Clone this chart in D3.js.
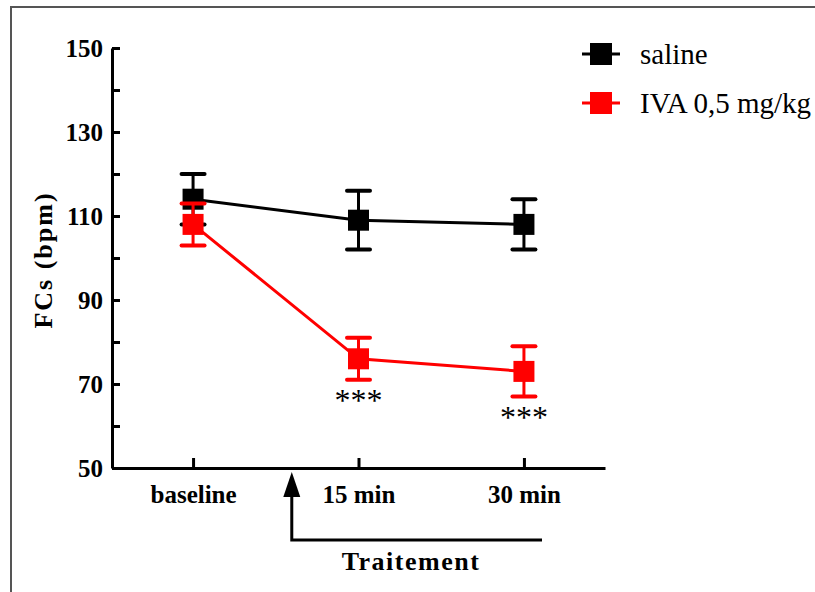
<!DOCTYPE html>
<html>
<head>
<meta charset="utf-8">
<script src="https://cdn.jsdelivr.net/npm/d3@7/dist/d3.min.js"></script>
<style>
  html, body { margin: 0; padding: 0; background: #fff; }
  svg { display: block; }
  svg text { font-family: "Liberation Serif", "Times New Roman", Times, "DejaVu Serif", serif !important; }
</style>
</head>
<body>
<script>
// ---- data ----
const categories = ["baseline", "15 min", "30 min"];
const salineMean = [114, 109, 108];
const salineErr  = [6, 7, 6];
const ivaMean    = [108, 76, 73];
const ivaErr     = [5, 5, 6];
const seriesNames = ["saline", "IVA 0,5 mg/kg"];
const seriesColors = ["#000000", "#ff0000"];
const yTicks = [50, 60, 70, 80, 90, 100, 110, 120, 130, 140, 150];
const yLabelTicks = [50, 70, 90, 110, 130, 150];
const signif = ["", "***", "***"];
const yTitle = "FCs (bpm)";
const xTitle = "Traitement";

const W = 815, H = 592;
const FONT = '"Liberation Serif", "Times New Roman", Times, "DejaVu Serif", serif';
const svg = d3.select("body").append("svg").attr("width", W).attr("height", H)
  .attr("font-family", FONT);

// frame (left and top edges)
svg.append("path").attr("d", `M11,${H} L11,7 L${W},7`).attr("fill", "none")
  .attr("stroke", "#555").attr("stroke-width", 2);

const x = d3.scalePoint().domain(categories).range([112, 605]).padding(0.49);
const y = d3.scaleLinear().domain([50, 150]).range([468, 48]);

// y axis
const yAxis = d3.axisLeft(y).tickValues(yTicks).tickSize(-8).tickSizeOuter(0).tickPadding(9)
  .tickFormat(d => yLabelTicks.includes(d) ? d : "");
const gy = svg.append("g").attr("transform", "translate(112,0)").call(yAxis).attr("font-family", FONT);
gy.selectAll("path,line").attr("stroke", "#000").attr("stroke-width", 3);
gy.selectAll("text").attr("font-size", 25).attr("font-weight", "bold").attr("fill", "#000");

// x axis
const xAxis = d3.axisBottom(x).tickSize(-10).tickSizeOuter(0).tickPadding(17);
const gx = svg.append("g").attr("transform", "translate(0,468)").call(xAxis).attr("font-family", FONT);
gx.selectAll("path,line").attr("stroke", "#000").attr("stroke-width", 3);
gx.selectAll("text").attr("font-size", 25).attr("font-weight", "bold").attr("fill", "#000");

// y title
svg.append("text").attr("transform", "translate(52,260) rotate(-90)")
  .attr("text-anchor", "middle").attr("font-size", 26).attr("font-weight", "bold")
  .attr("letter-spacing", 2).text(yTitle);

// treatment bracket with arrow
const bx = (x("baseline") + x("15 min")) / 2 + 16;
svg.append("path").attr("d", `M${bx},496 L${bx},540 L542,540`).attr("fill", "none")
  .attr("stroke", "#000").attr("stroke-width", 3);
svg.append("path").attr("d", `M${bx},472 L${bx - 8.5},497 L${bx + 8.5},497 Z`).attr("fill", "#000");
svg.append("text").attr("x", 411).attr("y", 570).attr("text-anchor", "middle")
  .attr("font-size", 26).attr("font-weight", "bold").attr("letter-spacing", 1.5).text(xTitle);

// series
const series = [
  { mean: salineMean, err: salineErr, color: seriesColors[0] },
  { mean: ivaMean, err: ivaErr, color: seriesColors[1] }
];
const line = d3.line().x((d, i) => x(categories[i])).y(d => y(d));
const cap = 11.5, sq = 21;
series.forEach(s => {
  const g = svg.append("g");
  g.append("path").attr("d", line(s.mean)).attr("fill", "none").attr("stroke", s.color).attr("stroke-width", 3);
  s.mean.forEach((m, i) => {
    const cx = x(categories[i]);
    g.append("line").attr("x1", cx).attr("x2", cx).attr("y1", y(m - s.err[i])).attr("y2", y(m + s.err[i]))
      .attr("stroke", s.color).attr("stroke-width", 3);
    [m - s.err[i], m + s.err[i]].forEach(v => {
      g.append("line").attr("x1", cx - cap).attr("x2", cx + cap).attr("y1", y(v)).attr("y2", y(v))
        .attr("stroke", s.color).attr("stroke-width", 4).attr("stroke-linecap", "round");
    });
    g.append("rect").attr("x", cx - sq / 2).attr("y", y(m) - sq / 2).attr("width", sq).attr("height", sq)
      .attr("fill", s.color);
  });
});

// significance stars
signif.forEach((t, i) => {
  if (!t) return;
  const yy = y(ivaMean[i] - ivaErr[i]) + 31;
  svg.append("text").attr("x", x(categories[i])).attr("y", yy).attr("text-anchor", "middle")
    .attr("font-size", 32).attr("fill", "#000").text(t);
});

// legend
seriesNames.forEach((n, i) => {
  const ly = 54 + i * 49;
  svg.append("line").attr("x1", 582).attr("x2", 620).attr("y1", ly).attr("y2", ly)
    .attr("stroke", seriesColors[i]).attr("stroke-width", 3);
  svg.append("rect").attr("x", 590).attr("y", ly - 11).attr("width", 22).attr("height", 22).attr("fill", seriesColors[i]);
  svg.append("text").attr("x", 640).attr("y", ly + 10).attr("font-size", 29).attr("fill", "#000").text(n);
});
</script>
</body>
</html>
